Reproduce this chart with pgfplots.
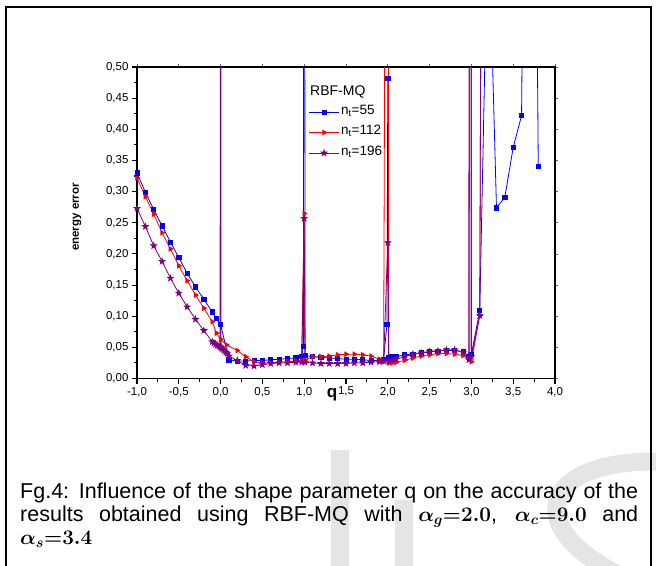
\documentclass[border=0pt]{standalone}
\usepackage{fontspec}
\setmainfont{Liberation Sans}
\usepackage{pgfplots}
\pgfplotsset{compat=1.18}
\definecolor{oblue}{RGB}{0,0,255}
\definecolor{ored}{RGB}{255,0,0}
\definecolor{opurple}{RGB}{128,0,128}
\pgfdeclareplotmark{fstar}{%
  \pgfpathmoveto{\pgfpointpolar{90}{1.25\pgfplotmarksize}}%
  \pgfpathlineto{\pgfpointpolar{126}{0.5\pgfplotmarksize}}%
  \pgfpathlineto{\pgfpointpolar{162}{1.25\pgfplotmarksize}}%
  \pgfpathlineto{\pgfpointpolar{198}{0.5\pgfplotmarksize}}%
  \pgfpathlineto{\pgfpointpolar{234}{1.25\pgfplotmarksize}}%
  \pgfpathlineto{\pgfpointpolar{270}{0.5\pgfplotmarksize}}%
  \pgfpathlineto{\pgfpointpolar{306}{1.25\pgfplotmarksize}}%
  \pgfpathlineto{\pgfpointpolar{342}{0.5\pgfplotmarksize}}%
  \pgfpathlineto{\pgfpointpolar{18}{1.25\pgfplotmarksize}}%
  \pgfpathlineto{\pgfpointpolar{54}{0.5\pgfplotmarksize}}%
  \pgfpathclose\pgfusepathqfillstroke}
\begin{document}
\begin{tikzpicture}
\useasboundingbox (0pt,0pt) rectangle (656pt,-565pt);
% watermark
\fill[gray!20] (331pt,-450pt) rectangle (349pt,-580pt);
\fill[gray!20] (395pt,-500pt) rectangle (413pt,-580pt);
\draw[gray!20, line width=18pt] (670pt,-462pt) .. controls (540pt,-455pt) and (510pt,-530pt) .. (640pt,-585pt);
% frame
\draw[line width=1.4pt] (6pt,-580pt) -- (6pt,-7pt) -- (651pt,-7pt) -- (651pt,-580pt);

% upper/right ticks
\begin{axis}[at={(137pt,-378.5pt)}, anchor=south west, scale only axis,
  width=418pt, height=311.5pt,
  xmin=-1, xmax=4, ymin=0, ymax=0.5,
  xtick={-1,-0.5,...,4}, ytick={0,0.05,...,0.5},
  xticklabels={}, yticklabels={},
  tick pos=right, tick align=outside,
  major tick length=3pt,
  axis line style={line width=1.6pt},
  every tick/.append style={line width=0.8pt, black!60}]
\end{axis}

\begin{axis}[at={(137pt,-378.5pt)}, anchor=south west, scale only axis,
  width=418pt, height=311.5pt,
  xmin=-1, xmax=4, ymin=0, ymax=0.5,
  xtick={-1,-0.5,...,4}, ytick={0,0.05,...,0.5},
  minor x tick num=1, minor y tick num=1,
  tick pos=left, tick align=outside,
  major tick length=5pt, minor tick length=3pt,
  every tick/.append style={line width=1.1pt, black},
  axis line style={line width=1.6pt},
  /pgf/number format/.cd, fixed, fixed zerofill, use comma, assume math mode=true,
  /pgfplots/.cd,
  xticklabel style={font=\fontsize{11.5}{12}\selectfont, /pgf/number format/precision=1},
  yticklabel style={font=\fontsize{11.5}{12}\selectfont, /pgf/number format/precision=2},
  legend style={at={(axis description cs:0.4103,0.889)}, anchor=north west,
    draw=none, fill=none, font=\fontsize{13.5}{14}\selectfont,
    row sep=0pt, inner sep=0pt, nodes={inner sep=1.5pt, text height=11pt, text depth=6.5pt}},
  legend cell align=left,
  legend image code/.code={\draw[mark repeat=2,mark phase=2] plot coordinates {(0pt,0pt) (15pt,0pt) (30pt,0pt)};},
  every axis plot/.append style={line width=0.8pt}]

\addplot[color=oblue, mark=square*, mark size=2.1pt] coordinates {
(-1.0,0.330) (-0.9,0.299) (-0.8,0.271) (-0.7,0.245) (-0.6,0.219) (-0.5,0.194)
(-0.4,0.169) (-0.3,0.147) (-0.2,0.127) (-0.1,0.107) (-0.05,0.096) (0.0,0.087)
(0.1,0.030) (0.2,0.028) (0.3,0.028) (0.4,0.029) (0.5,0.029) (0.6,0.030)
(0.7,0.031) (0.8,0.032) (0.9,0.033) (0.97,0.036) (0.99,0.052) (1.0,2.0)
(1.01,0.037) (1.1,0.035) (1.2,0.034) (1.3,0.033) (1.4,0.032) (1.5,0.031)
(1.6,0.031) (1.7,0.030) (1.8,0.029) (1.9,0.029) (1.95,0.031) (1.99,0.087)
(2.0,0.482) (2.01,0.033) (2.05,0.035) (2.1,0.035) (2.2,0.038) (2.3,0.039)
(2.4,0.041) (2.5,0.043) (2.6,0.044) (2.7,0.045) (2.8,0.045) (2.9,0.043)
(2.97,0.036) (2.99,2.0) (3.0,0.039) (3.1,0.109) (3.2,0.765) (3.3,0.274)
(3.4,0.291) (3.5,0.371) (3.6,0.422) (3.7,2.0) (3.8,0.340)
};
\addlegendentry{n\textsubscript{t}=55}

\addplot[color=ored, mark=triangle*, mark size=2.6pt, mark options={rotate=-90}] coordinates {
(-1.0,0.322) (-0.9,0.292) (-0.8,0.264) (-0.7,0.234) (-0.6,0.208) (-0.5,0.181)
(-0.4,0.157) (-0.3,0.134) (-0.2,0.113) (-0.1,0.091) (-0.05,0.073) (0.0,0.063)
(0.07,0.054) (0.2,0.045) (0.3,0.035) (0.4,0.027) (0.5,0.025) (0.6,0.025)
(0.7,0.026) (0.8,0.027) (0.9,0.028) (0.97,0.029) (1.0,0.265) (1.01,0.030)
(1.1,0.035) (1.2,0.035) (1.3,0.036) (1.4,0.038) (1.5,0.039) (1.6,0.039)
(1.7,0.038) (1.8,0.036) (1.9,0.031) (1.95,0.027) (2.0,2.0) (2.01,0.025)
(2.05,0.025) (2.1,0.026) (2.2,0.029) (2.3,0.033) (2.4,0.036) (2.5,0.038)
(2.6,0.040) (2.7,0.040) (2.8,0.039) (2.9,0.037) (2.97,0.031) (2.99,2.0)
(3.0,0.027) (3.1,0.101) (3.15,2.0)
};
\addlegendentry{n\textsubscript{t}=112}

\addplot[color=opurple, mark=fstar, mark size=2.4pt] coordinates {
(-1.0,0.273) (-0.9,0.244) (-0.8,0.213) (-0.7,0.188) (-0.6,0.161) (-0.5,0.137)
(-0.4,0.115) (-0.3,0.095) (-0.2,0.077) (-0.1,0.059) (-0.08,0.057) (-0.06,0.055)
(-0.04,0.053) (-0.02,0.052) (-0.006,0.051) (0.0,2.0) (0.006,0.049) (0.02,0.048)
(0.035,0.046) (0.05,0.044) (0.065,0.042) (0.08,0.040) (0.1,0.036) (0.2,0.029) (0.3,0.021)
(0.4,0.020) (0.5,0.022) (0.6,0.024) (0.7,0.025) (0.8,0.025) (0.9,0.026)
(0.97,0.026) (1.0,0.257) (1.01,0.026) (1.1,0.025) (1.2,0.024) (1.3,0.024)
(1.4,0.024) (1.5,0.024) (1.6,0.025) (1.7,0.025) (1.8,0.026) (1.9,0.027)
(1.95,0.028) (2.0,0.218) (2.01,0.028) (2.05,0.029) (2.1,0.031) (2.2,0.035)
(2.3,0.039) (2.4,0.041) (2.5,0.043) (2.6,0.044) (2.7,0.046) (2.8,0.046)
(2.9,0.042) (2.97,0.030) (2.99,2.0) (3.0,0.035) (3.1,0.101) (3.15,2.0)
};
\addlegendentry{n\textsubscript{t}=196}
\end{axis}

\node[anchor=west, inner sep=0pt, font=\fontsize{14}{14}\selectfont] at (310pt,-91.5pt) {RBF-MQ};
\node[font=\bfseries\fontsize{17}{17}\selectfont, inner sep=0pt] at (332pt,-395pt) {q};
\node[rotate=90, font=\bfseries\fontsize{11.5}{12}\selectfont, inner sep=0pt] at (77pt,-217pt) {energy error};

\node[anchor=north west, inner sep=0pt, text width=618pt, align=justify,
  font=\fontsize{21.5}{23}\selectfont] at (20pt,-483pt)
  {Fg.4: Influence of the shape parameter q on the accuracy of the\linebreak
   results obtained using RBF-MQ with \mbox{\boldmath$\alpha_g{=}2.0$}, \mbox{\boldmath$\alpha_c{=}9.0$} and\linebreak
   \mbox{\boldmath$\alpha_s{=}3.4$}};
\end{tikzpicture}
\end{document}
